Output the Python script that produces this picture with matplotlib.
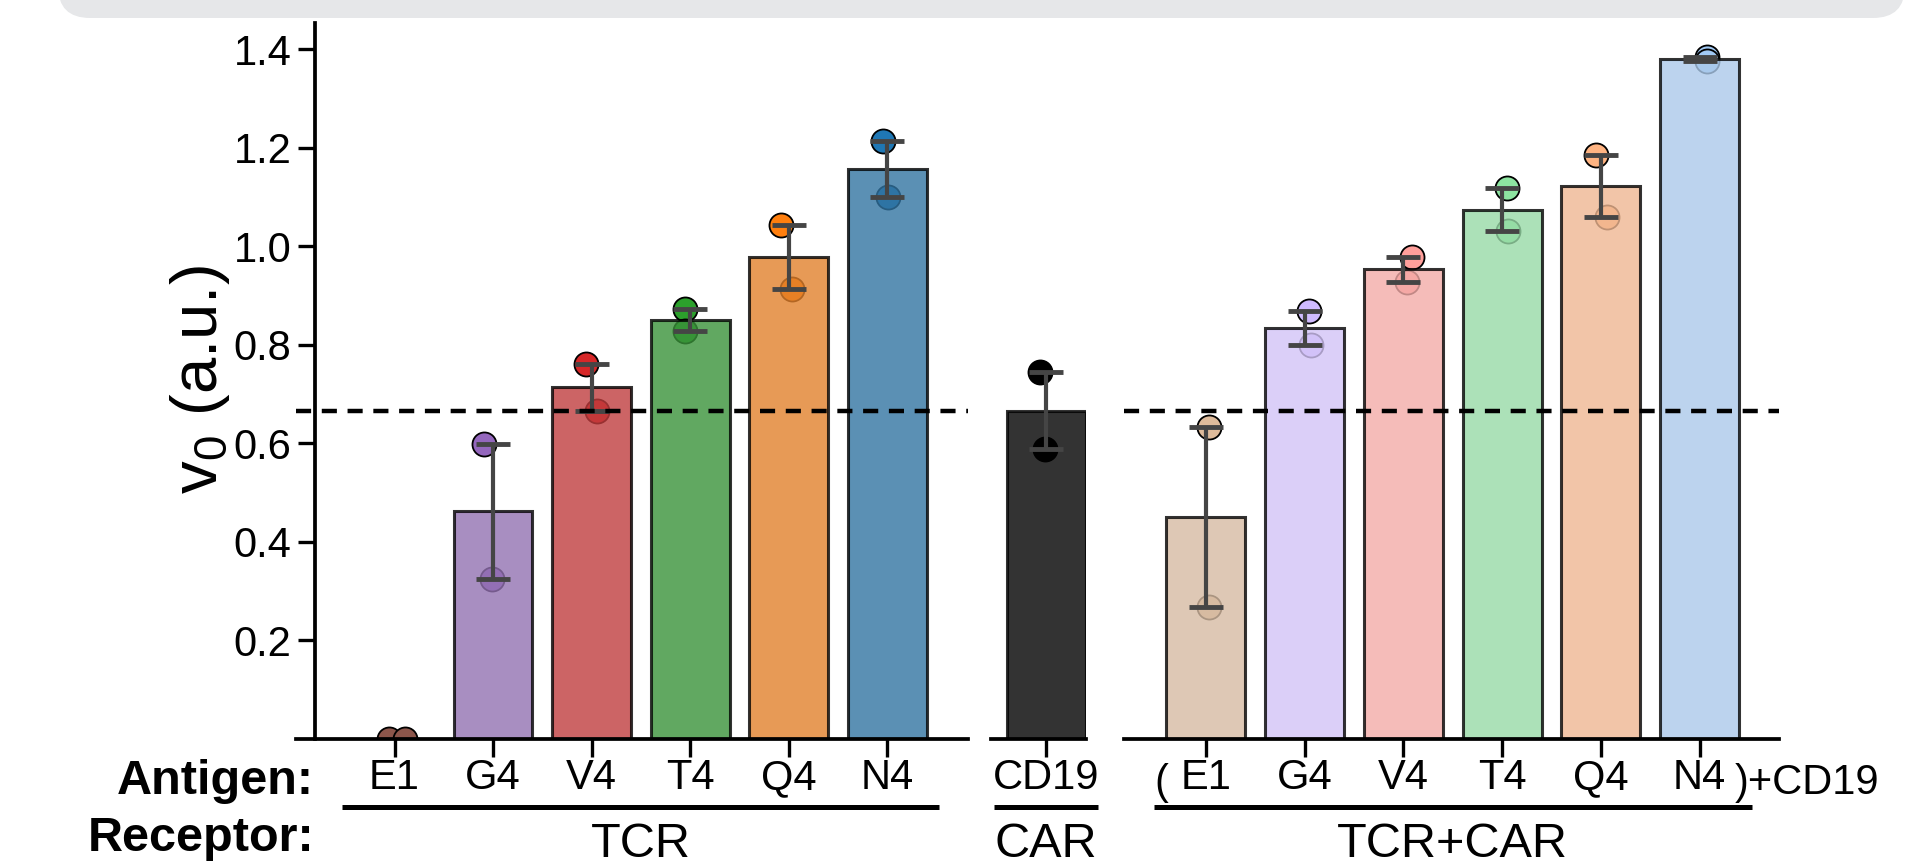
import colorsys
import numpy as np
import matplotlib
matplotlib.use('Agg')
import matplotlib.pyplot as plt
import matplotlib.colors as mcolors
from matplotlib.patches import FancyBboxPatch
from matplotlib.transforms import IdentityTransform

plt.rcParams['font.family'] = ['Liberation Sans', 'DejaVu Sans']

# replicate values (two per condition)
tcr_antigens = ['E1', 'G4', 'V4', 'T4', 'Q4', 'N4']
tcr_reps = [[0.0, 0.0], [0.598, 0.324], [0.760, 0.666],
            [0.872, 0.828], [1.042, 0.912], [1.214, 1.099]]

car_antigens = ['CD19']
car_reps = [[0.744, 0.588]]

combo_antigens = ['E1', 'G4', 'V4', 'T4', 'Q4', 'N4']
combo_reps = [[0.632, 0.268], [0.868, 0.799], [0.977, 0.928],
              [1.118, 1.030], [1.185, 1.059], [1.384, 1.376]]

receptors = ['TCR', 'CAR', 'TCR+CAR']

# colours
tcr_colors = ['#8c564b', '#9467bd', '#d62728', '#2ca02c', '#ff7f0e', '#1f77b4']
car_colors = ['#000000']
combo_colors = ['#debb9b', '#d0bbff', '#ff9f9b', '#8de5a1', '#ffb482', '#a1c9f4']

# horizontal offset of each dot inside its bar
tcr_jitter = [[-0.06, 0.11], [-0.09, -0.01], [-0.06, 0.05],
              [-0.05, -0.05], [-0.08, 0.03], [-0.04, 0.01]]
car_jitter = [[-0.065, -0.01]]
combo_jitter = [[0.03, 0.03], [0.04, 0.06], [0.09, 0.04],
                [0.05, 0.06], [-0.045, 0.06], [0.08, 0.075]]


def desat(c, prop=0.75):
    r, g, b = mcolors.to_rgb(c)
    h, l, s = colorsys.rgb_to_hls(r, g, b)
    return colorsys.hls_to_rgb(h, l, s * prop)


def draw_group(ax, labels, reps, colors, jitter):
    x = np.arange(len(labels))
    means = np.array([np.mean(r) for r in reps])
    sems = np.array([np.std(r, ddof=1) / np.sqrt(len(r)) for r in reps])
    for i in range(len(labels)):
        ax.scatter(x[i] + np.array(jitter[i]), reps[i], s=300, color=colors[i],
                   edgecolor='black', linewidth=1.3, zorder=1)
    ax.bar(x, means, width=0.8, color=[desat(c) for c in colors],
           edgecolor='black', linewidth=2.2, alpha=0.8, zorder=2)
    ok = sems > 0
    ax.errorbar(x[ok], means[ok], yerr=sems[ok], fmt='none', ecolor='0.27',
                elinewidth=3, capsize=12, capthick=3.5, zorder=3)
    ax.set_xticks(x)
    ax.set_xticklabels(labels)
    return means


W, H = 1930, 865
fig = plt.figure(figsize=(W / 100, H / 100), dpi=100)

# grey card edge at the top
band = FancyBboxPatch((58, H - 18), 1905 - 58, 80,
                      boxstyle='round,pad=0,rounding_size=32',
                      transform=IdentityTransform(), facecolor='#e6e7e9',
                      edgecolor='none')
fig.add_artist(band)

bottom = (H - 738.5) / H
height = (738.5 - 23) / H
ax1 = fig.add_axes([296 / W, bottom, (968 - 296) / W, height])
ax2 = fig.add_axes([991 / W, bottom, 95 / W, height])
ax3 = fig.add_axes([1124 / W, bottom, (1779 - 1124) / W, height])

draw_group(ax1, tcr_antigens, tcr_reps, tcr_colors, tcr_jitter)
car_mean = draw_group(ax2, car_antigens, car_reps, car_colors, car_jitter)[0]
draw_group(ax3, combo_antigens, combo_reps, combo_colors, combo_jitter)

ax1.set_xlim(-1.0, 5.82)
ax2.set_xlim(-0.557, 0.405)
ax3.set_xlim(-0.83, 5.805)

for ax in [ax1, ax2, ax3]:
    ax.set_ylim(0, 1.453)
    ax.spines['top'].set_visible(False)
    ax.spines['right'].set_visible(False)
    ax.spines['bottom'].set_linewidth(2.7)
    ax.spines['left'].set_linewidth(2.7)
    ax.tick_params(axis='x', length=13, width=2.4, labelsize=30, pad=1)
    ax.patch.set_alpha(0)

ax1.spines['left'].set_position(('data', -0.807))
ax1.set_yticks([0.2, 0.4, 0.6, 0.8, 1.0, 1.2, 1.4])
ax1.tick_params(axis='y', length=12, width=2.4, labelsize=30, pad=5)
for ax in [ax2, ax3]:
    ax.spines['left'].set_visible(False)
    ax.set_yticks([])

for ax in [ax1, ax3]:
    ax.axhline(car_mean, color='black', lw=3.2, ls=(0, (3.4, 2.4)), zorder=4)

# receptor brackets and names
line_y = (738.5 - 807) / (738.5 - 23)
name_y = (738.5 - 857) / (738.5 - 23)
tick_base = (738.5 - 794) / (738.5 - 23)
for ax, n, name in zip([ax1, ax2, ax3], [6, 1, 6], receptors):
    tr = ax.get_xaxis_transform()
    ax.plot([-0.53, n - 1 + 0.53], [line_y, line_y], color='black', lw=3.6,
            transform=tr, clip_on=False, solid_capstyle='butt')
    ax.text((n - 1) / 2, name_y, name, transform=tr, ha='center',
            va='baseline', fontsize=35)

tr3 = ax3.get_xaxis_transform()
ax3.text(-0.456, tick_base, '(', transform=tr3, ha='center', va='baseline', fontsize=30)
ax3.text(5.36, tick_base, ')+CD19', transform=tr3, ha='left', va='baseline', fontsize=30)

fig.text(314 / W, (H - 794) / H, 'Antigen:', ha='right', va='baseline',
         fontsize=35, fontweight='bold')
fig.text(314 / W, (H - 851) / H, 'Receptor:', ha='right', va='baseline',
         fontsize=35, fontweight='bold')
fig.text(200 / W, (H - 380) / H, r'$\mathregular{v_0}$ (a.u.)', rotation=90,
         ha='center', va='center', fontsize=47)

fig.savefig('out.png', dpi=100)
